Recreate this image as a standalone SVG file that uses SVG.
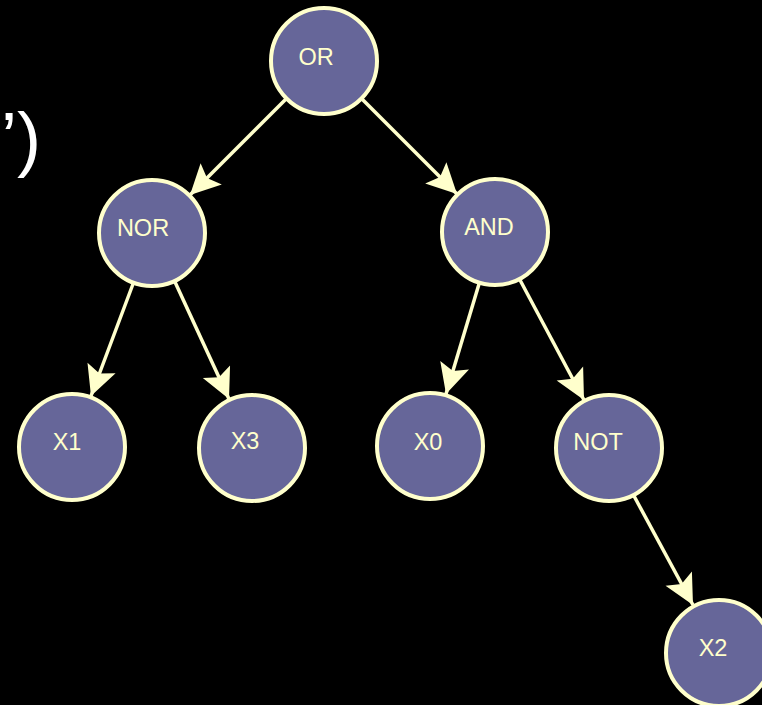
<svg xmlns="http://www.w3.org/2000/svg" width="762" height="705" viewBox="0 0 762 705">
  <defs>
    <style>
      .node circle { fill: #666699; stroke: #FFFFCC; stroke-width: 4; }
      .node text { font-family: "Liberation Sans", Arial, sans-serif; font-size: 23.5px; fill: #FFFFCC; text-anchor: middle; }
      .edge { stroke: #FFFFCC; stroke-width: 3.5; fill: none; marker-end: url(#arrow); }
      .title { font-family: "Liberation Sans", Arial, sans-serif; font-size: 72px; fill: #FFFFFF; text-anchor: end; }
    </style>
    <marker id="arrow" markerUnits="userSpaceOnUse" viewBox="-32 -17 34 34" markerWidth="34" markerHeight="34" refX="0" refY="0" orient="auto">
      <path d="M0,0 L-30,-15 L-24,0 L-30,15 Z" fill="#FFFFCC"/>
    </marker>
  </defs>

  <rect width="762" height="705" fill="#000000"/>

  <!-- trailing characters of a heading cut at the left edge -->
  <text class="title" x="41" y="163">’)</text>

  <!-- connectors -->
  <g id="edges">
    <line class="edge" x1="286" y1="99" x2="190" y2="195"/>
    <line class="edge" x1="362" y1="99" x2="457" y2="194"/>
    <line class="edge" x1="133" y1="284" x2="91" y2="396"/>
    <line class="edge" x1="175" y1="282" x2="229" y2="399"/>
    <line class="edge" x1="479" y1="284" x2="446" y2="394"/>
    <line class="edge" x1="520" y1="280" x2="584" y2="400"/>
    <line class="edge" x1="634" y1="496" x2="693" y2="605"/>
  </g>

  <!-- nodes -->
  <g id="node-or" class="node">
    <circle cx="324" cy="61" r="53"/>
    <text x="316" y="65">OR</text>
  </g>
  <g id="node-nor" class="node">
    <circle cx="152" cy="233" r="53"/>
    <text x="143" y="236">NOR</text>
  </g>
  <g id="node-and" class="node">
    <circle cx="495" cy="232" r="53"/>
    <text x="489" y="235">AND</text>
  </g>
  <g id="node-x1" class="node">
    <circle cx="72" cy="447" r="53"/>
    <text x="67" y="450">X1</text>
  </g>
  <g id="node-x3" class="node">
    <circle cx="252" cy="448" r="53"/>
    <text x="245" y="449">X3</text>
  </g>
  <g id="node-x0" class="node">
    <circle cx="430" cy="446" r="53"/>
    <text x="428" y="450">X0</text>
  </g>
  <g id="node-not" class="node">
    <circle cx="609" cy="448" r="53"/>
    <text x="598" y="450">NOT</text>
  </g>
  <g id="node-x2" class="node">
    <circle cx="719" cy="653" r="53"/>
    <text x="713" y="656">X2</text>
  </g>
</svg>
